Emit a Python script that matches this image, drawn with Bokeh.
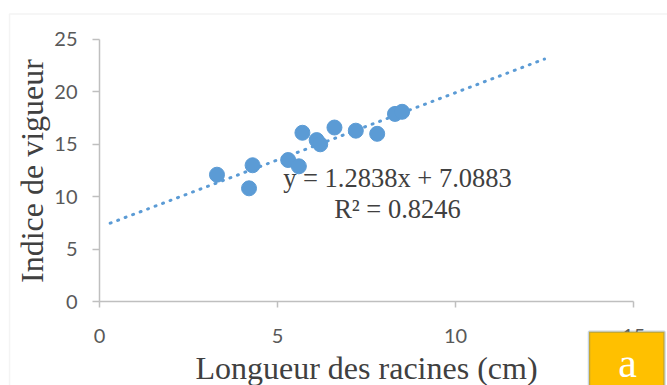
import math
from bokeh.plotting import figure
from bokeh.models import Label, FixedTicker, Range1d, BoxAnnotation
from bokeh.embed import file_html
from bokeh.resources import INLINE

# ---- data ----
root_length = [3.3, 4.2, 4.3, 5.3, 5.6, 5.7, 6.1, 6.2, 6.6, 7.2, 7.8, 8.3, 8.5]
vigour_index = [12.1, 10.8, 13.0, 13.5, 12.9, 16.1, 15.4, 15.0, 16.6, 16.3, 16.0, 17.9, 18.1]
x_ticks = [0, 5, 10, 15]
y_ticks = [0, 5, 10, 15, 20, 25]
slope = 1.2838
intercept = 7.0883
r2 = 0.8246
trend_x = [0.3, 12.5]
trend_y = [slope * v + intercept for v in trend_x]

SERIF = "Liberation Serif"
SANS = "Lato"
TXT = "#404040"
TICK = "#595959"
BLUE = "#5B9BD5"

# the plotting frame fills the whole canvas; axes are pinned at 0 with fixed_location
p = figure(width=667, height=385, output_backend="svg", toolbar_location=None,
           x_range=Range1d(-2.781, 15.955), y_range=Range1d(-8.015, 28.721),
           min_border_left=0, min_border_right=0, min_border_top=0, min_border_bottom=0)
p.outline_line_color = None
p.grid.grid_line_color = None
p.background_fill_color = "white"
p.border_fill_color = "white"

for ax, bounds, ticks in ((p.xaxis[0], (0, 15), x_ticks), (p.yaxis[0], (0, 25), y_ticks)):
    ax.fixed_location = 0
    ax.bounds = bounds
    ax.ticker = FixedTicker(ticks=ticks)
    ax.axis_line_color = "#BFBFBF"
    ax.axis_line_width = 1.5
    ax.major_tick_line_color = "#BFBFBF"
    ax.major_tick_line_width = 1.5
    ax.minor_tick_line_color = None
    ax.major_tick_in = 0
    ax.major_label_text_font = SANS
    ax.major_label_text_font_size = "20px"
    ax.major_label_text_color = TICK

p.xaxis.major_tick_out = 6
p.yaxis.major_tick_out = 7
p.xaxis.major_label_standoff = 21
p.yaxis.major_label_standoff = 15

# chart-area border
p.add_layout(BoxAnnotation(left=-2.528, right=40, top=27.43, bottom=-40,
                           fill_alpha=0, line_color="#D9D9D9", line_width=1.5))

# axis titles
p.add_layout(Label(x=7.5, y=-6.32, text="Longueur des racines (cm)", text_align="center",
                   text_baseline="alphabetic", text_font=SERIF, text_font_size="32px", text_color=TXT))
p.add_layout(Label(x=-1.888, y=12.45, text="Indice de vigueur", angle=math.pi / 2, text_align="center",
                   text_baseline="alphabetic", text_font=SERIF, text_font_size="32px", text_color=TXT))

# trendline
p.line(trend_x, trend_y, line_color=BLUE, line_width=3, line_dash="1 7", line_cap="round")
# points
p.scatter(root_length, vigour_index, size=15, color=BLUE)

p.add_layout(Label(x=8.37, y=11.80, text=f"y = {slope}x + {intercept}", text_align="center",
                   text_baseline="alphabetic", text_font=SERIF, text_font_size="26.5px", text_color=TXT))
p.add_layout(Label(x=8.37, y=8.84, text=f"R² = {r2}", text_align="center",
                   text_baseline="alphabetic", text_font=SERIF, text_font_size="26.5px", text_color=TXT))

# panel tag "a"
p.add_layout(BoxAnnotation(left=13.75, right=15.87, top=-2.88, bottom=-12,
                           fill_color="#FFC000", fill_alpha=1, line_color="#41719C", line_width=2.5))
p.add_layout(Label(x=14.83, y=-5.85, text="a", text_align="center", text_baseline="alphabetic",
                   text_font=SERIF, text_font_size="42px", text_color="white"))

open("out.html", "w").write(file_html(p, INLINE))
